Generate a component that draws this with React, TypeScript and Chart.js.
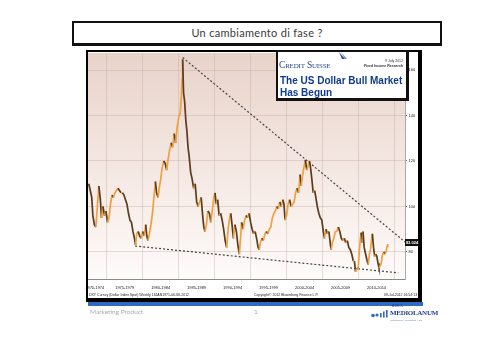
import React, { useEffect, useRef } from "react";
import { Chart, registerables } from "chart.js";
Chart.register(...registerables);

// ---- data (US Dollar Index) ----
const years = [
  1972.6, 1972.8, 1973.0, 1973.15, 1973.35, 1973.55, 1973.75, 1973.95, 1974.15, 1974.3,
  1974.5, 1974.7, 1974.9, 1975.1, 1975.3, 1975.5, 1975.7, 1975.9, 1976.1, 1976.3,
  1976.5, 1976.7, 1976.9, 1977.1, 1977.3, 1977.5, 1977.7, 1977.9, 1978.1, 1978.3,
  1978.5, 1978.7, 1978.85, 1979.0, 1979.2, 1979.4, 1979.6, 1979.8, 1980.0, 1980.2,
  1980.35, 1980.5, 1980.7, 1980.9, 1981.1, 1981.3, 1981.5, 1981.65, 1981.85, 1982.0,
  1982.2, 1982.4, 1982.6, 1982.8, 1983.0, 1983.2, 1983.4, 1983.6, 1983.8, 1984.0,
  1984.2, 1984.4, 1984.6, 1984.8, 1984.95, 1985.05, 1985.13, 1985.25, 1985.4, 1985.55,
  1985.7, 1985.85, 1986.0, 1986.2, 1986.4, 1986.6, 1986.8, 1987.0, 1987.2, 1987.4,
  1987.6, 1987.8, 1987.95, 1988.1, 1988.3, 1988.5, 1988.7, 1988.9, 1989.1, 1989.3,
  1989.45, 1989.6, 1989.8, 1990.0, 1990.2, 1990.4, 1990.6, 1990.8, 1991.0, 1991.2,
  1991.4, 1991.55, 1991.75, 1991.9, 1992.1, 1992.3, 1992.5, 1992.7, 1992.85, 1993.0,
  1993.2, 1993.4, 1993.6, 1993.8, 1994.0, 1994.2, 1994.4, 1994.6, 1994.8, 1995.0,
  1995.2, 1995.35, 1995.5, 1995.7, 1995.9, 1996.1, 1996.3, 1996.5, 1996.7, 1996.9,
  1997.1, 1997.3, 1997.5, 1997.7, 1997.9, 1998.1, 1998.3, 1998.5, 1998.65, 1998.8,
  1999.0, 1999.2, 1999.4, 1999.6, 1999.8, 2000.0, 2000.2, 2000.4, 2000.6, 2000.8,
  2000.95, 2001.1, 2001.3, 2001.5, 2001.7, 2001.9, 2002.05, 2002.2, 2002.4, 2002.55,
  2002.75, 2002.95, 2003.1, 2003.3, 2003.5, 2003.7, 2003.9, 2004.05, 2004.25, 2004.45,
  2004.65, 2004.85, 2004.95, 2005.1, 2005.3, 2005.5, 2005.7, 2005.9, 2006.1, 2006.3,
  2006.5, 2006.7, 2006.9, 2007.1, 2007.3, 2007.5, 2007.7, 2007.9, 2008.05, 2008.2,
  2008.4, 2008.55, 2008.7, 2008.85, 2008.95, 2009.1, 2009.2, 2009.35, 2009.55, 2009.75,
  2009.9, 2010.05, 2010.2, 2010.35, 2010.45, 2010.6, 2010.75, 2010.9, 2011.05, 2011.2,
  2011.33, 2011.5, 2011.6, 2011.75, 2011.9, 2012.0, 2012.15, 2012.3, 2012.4, 2012.5,
];
const dxy = [
  110, 107, 104, 96, 92, 91, 100, 109, 103, 95,
  100, 96, 98, 93, 95, 101, 105, 104, 106, 107,
  108, 107, 106, 106, 105, 103, 101, 97, 94, 93,
  89, 86, 83, 88, 89, 87, 86, 89, 87, 92,
  87, 85, 88, 92, 97, 104, 111, 106, 104, 108,
  112, 117, 120, 119, 116, 121, 125, 128, 126, 132,
  128, 135, 139, 141, 148, 156, 164.7, 150, 146, 138,
  133, 126, 122, 115, 112, 108, 110, 102, 100, 102,
  104, 96, 91, 89, 92, 98, 97, 93, 99, 104,
  106, 101, 103, 96, 97, 94, 90, 85, 82, 90,
  95, 97, 91, 86, 92, 89, 83, 79, 86, 93,
  90, 94, 96, 95, 97, 93, 90, 88, 89, 86,
  82, 81, 84, 86, 85, 88, 89, 88, 90, 91,
  95, 97, 98, 100, 99, 102, 100, 103, 101, 94,
  96, 101, 103, 100, 101, 102, 106, 108, 106, 114,
  109, 113, 117, 120.5, 116, 118, 120, 117, 111, 106,
  107, 103, 100, 97, 95, 94, 89, 86, 90, 88,
  89, 83, 81, 84, 86, 89, 89, 91, 89, 86,
  85, 86, 84, 85, 82, 81, 79, 76, 76, 71.3,
  73, 72.5, 80, 86, 88.5, 84, 89, 82, 79, 76,
  74.5, 79, 81, 86, 88, 82, 78, 79, 78, 75,
  73, 74, 74.5, 78, 79.5, 80, 79, 80.5, 82.5, 83.5,
];
const yTicks = [80, 100, 120, 140, 160];
const xGridYears = [1975, 1979.8, 1984.6, 1989.4, 1994.2, 1999, 2003.8, 2008.6, 2013.4];
const xLabelYears = [1973.4, 1977.4, 1982.2, 1987, 1991.8, 1996.6, 2001.4, 2006.2, 2011];
const xLabels = [
  "1970-1974", "1975-1979", "1980-1984", "1985-1989", "1990-1994",
  "1995-1999", "2000-2004", "2005-2009", "2010-2014",
];
const upperTrendYears = [1985.13, 2014.87];
const upperTrendValues = [165.5, 84.2];
const lowerTrendYears = [1978.8, 2013.9];
const lowerTrendValues = [82.6, 70.8];
const lastValueLabel = "83.024";

export default function App() {
  const ref = useRef<HTMLCanvasElement>(null);

  useEffect(() => {
    const plotBg = {
      id: "plotBg",
      beforeDraw(chart: any) {
        const { ctx, chartArea: a } = chart;
        const g = ctx.createLinearGradient(0, a.top, 0, a.bottom);
        g.addColorStop(0, "#e8d3ca");
        g.addColorStop(0.55, "#f5e9e4");
        g.addColorStop(1, "#fefbfa");
        ctx.save();
        ctx.fillStyle = g;
        ctx.fillRect(a.left, a.top, a.right - a.left, a.bottom - a.top);
        ctx.restore();
      },
    };
    const gridColor = "rgba(190,160,150,0.35)";
    const chart = new Chart(ref.current as HTMLCanvasElement, {
      type: "line",
      data: {
        datasets: [
          {
            data: years.map((x, i) => ({ x, y: dxy[i] })),
            borderColor: "#f0a040",
            borderWidth: 1.7,
            pointRadius: 0,
            tension: 0,
            segment: {
              borderColor: (c: any) => (c.p1.parsed.y >= c.p0.parsed.y ? "#f0a040" : "#5a3c1e"),
            },
          },
          {
            data: upperTrendYears.map((x, i) => ({ x, y: upperTrendValues[i] })),
            borderColor: "#444",
            borderWidth: 1.2,
            borderDash: [2, 2],
            pointRadius: 0,
          },
          {
            data: lowerTrendYears.map((x, i) => ({ x, y: lowerTrendValues[i] })),
            borderColor: "#444",
            borderWidth: 1.2,
            borderDash: [2, 2],
            pointRadius: 0,
          },
        ],
      },
      options: {
        animation: false,
        responsive: false,
        devicePixelRatio: 1,
        layout: { padding: { left: 88, top: 53, right: 82, bottom: 62 } },
        plugins: { legend: { display: false }, tooltip: { enabled: false } },
        scales: {
          x: {
            type: "linear",
            min: 1972.5,
            max: 2014.8,
            position: "bottom",
            afterBuildTicks: (s: any) => {
              s.ticks = xGridYears.map((v) => ({ value: v }));
            },
            afterFit: (s: any) => {
              s.height = 0;
            },
            ticks: { display: false },
            grid: { color: gridColor, drawTicks: false },
            border: { display: false },
          },
          x2: {
            type: "linear",
            min: 1972.5,
            max: 2014.8,
            position: "bottom",
            afterBuildTicks: (s: any) => {
              s.ticks = xLabelYears.map((v) => ({ value: v }));
            },
            afterFit: (s: any) => {
              s.height = 19;
            },
            grid: { display: false, drawTicks: false, tickLength: 0 },
            border: { display: true, color: "#888", dash: [2, 2] },
            ticks: {
              font: { size: 4, family: "Liberation Sans" },
              color: "#222",
              padding: 6,
              maxRotation: 0,
              autoSkip: false,
              callback: (_v: any, i: number) => xLabels[i],
            },
          },
          y: {
            position: "right",
            min: 68.1,
            max: 167.5,
            afterBuildTicks: (s: any) => {
              s.ticks = yTicks.map((v) => ({ value: v }));
            },
            afterFit: (s: any) => {
              s.width = 13;
            },
            grid: { color: gridColor, tickColor: "#777", tickLength: 2 },
            border: { display: true, color: "#aaa" },
            ticks: {
              font: { size: 4, family: "Liberation Sans" },
              color: "#222",
              padding: 1.5,
              callback: (v: any) => String(v),
            },
          },
        },
      } as any,
      plugins: [plotBg],
    });
    return () => chart.destroy();
  }, []);

  const abs = (o: any) => ({ position: "absolute", ...o } as React.CSSProperties);

  return (
    <div style={{ position: "fixed", left: 0, top: 0, width: 500, height: 360, background: "#fff", overflow: "hidden" }}>
      <canvas ref={ref} width={500} height={360} style={abs({ left: 0, top: 0, width: 500, height: 360 })} />

      {/* slide title */}
      <div
        style={abs({
          left: 72, top: 21, width: 370, height: 25, boxSizing: "border-box",
          border: "2px solid #111", borderBottom: "3px solid #111", background: "#fff",
          textAlign: "center", font: "11px Lato, 'Open Sans', sans-serif", lineHeight: "20px",
          color: "#3a3a3a", letterSpacing: 0.3,
        })}
      >
        Un cambiamento di fase ?
      </div>

      {/* chart frame */}
      <div
        style={abs({
          left: 86, top: 50, width: 336, height: 252, boxSizing: "border-box",
          borderLeft: "2px solid #000", borderTop: "2px solid #000",
          borderRight: "4px solid #000", borderBottom: "4px solid #000",
        })}
      />

      {/* source row */}
      <div style={abs({ left: 89, top: 293, font: "3.5px 'Liberation Sans'", color: "#222", whiteSpace: "nowrap" })}>
        DXY Curncy (Dollar Index Spot) Weekly 16JAN1971-06JUL2012
      </div>
      <div style={abs({ left: 254, top: 293, font: "3.5px 'Liberation Sans'", color: "#222", whiteSpace: "nowrap" })}>
        Copyright© 2012 Bloomberg Finance L.P.
      </div>
      <div style={abs({ left: 384, top: 293, font: "3.5px 'Liberation Sans'", color: "#222", whiteSpace: "nowrap" })}>
        09-Jul-2012 16:54:13
      </div>

      {/* last value marker */}
      <div
        style={abs({
          left: 405, top: 239, width: 14, height: 7, background: "#111", color: "#fff",
          font: "bold 4px 'Liberation Sans'", lineHeight: "7px", textAlign: "center",
        })}
      >
        {lastValueLabel}
      </div>

      {/* Credit Suisse box */}
      <div
        style={abs({
          left: 276, top: 50, width: 133, height: 51, boxSizing: "border-box",
          border: "2px solid #111", borderRight: "3px solid #111", borderBottom: "3px solid #111",
          background: "#fff",
        })}
      >
        <div style={abs({ left: 1, top: 8, font: "9.5px 'Liberation Serif', serif", fontVariant: "small-caps", color: "#2a4a8c", letterSpacing: -0.2, whiteSpace: "nowrap" })}>
          Credit Suisse
        </div>
        <svg style={abs({ left: 60, top: 0 })} width="10" height="10" viewBox="0 0 10 10">
          <polygon points="1,0 7,7 4,7" fill="#2a4a8c" />
          <polygon points="3,0 9,7 7,7" fill="#6c86b8" />
        </svg>
        <div style={abs({ right: 3, top: 7, font: "3.5px 'Liberation Sans'", color: "#333", textAlign: "right", lineHeight: "5px", whiteSpace: "nowrap" })}>
          9 July 2012
          <br />
          <b>Fixed Income Research</b>
        </div>
        <div style={abs({ left: 2, top: 23, font: "bold 10px 'Liberation Sans', Arial, sans-serif", color: "#0e3b8e", lineHeight: "11.5px", whiteSpace: "nowrap" })}>
          The US Dollar Bull Market
          <br />
          Has Begun
        </div>
      </div>

      {/* blue rule */}
      <div style={abs({ left: 88, top: 302, width: 335, height: 4, background: "#2d6cc0" })} />

      {/* footer */}
      <div style={abs({ left: 90, top: 308, font: "6.5px Lato, sans-serif", color: "#aaa", whiteSpace: "nowrap" })}>
        Marketing Product
      </div>
      <div style={abs({ left: 254, top: 308, font: "6.5px Lato, sans-serif", color: "#aaa" })}>1</div>

      {/* Banca Mediolanum logo */}
      <svg style={abs({ left: 371, top: 309 })} width="18" height="9" viewBox="0 0 18 9">
        <circle cx="2" cy="6.5" r="1.8" fill="#2d6cc0" />
        <circle cx="6" cy="6" r="1.6" fill="#2d6cc0" />
        <rect x="9" y="4" width="1.6" height="4.5" fill="#2d6cc0" />
        <rect x="12" y="2.5" width="1.6" height="6" fill="#2d6cc0" />
        <rect x="15" y="1" width="1.6" height="7.5" fill="#2d6cc0" />
      </svg>
      <div style={abs({ left: 392, top: 304, font: "bold 3px 'Liberation Serif'", color: "#23408e" })}>BANCA</div>
      <div style={abs({ left: 390, top: 309, font: "bold 7px 'Liberation Serif', serif", color: "#23408e", letterSpacing: -0.3, whiteSpace: "nowrap" })}>
        MEDIOLANUM
      </div>
      <div style={abs({ left: 390, top: 318.5, font: "2.5px 'Liberation Sans'", color: "#6a7fb0", whiteSpace: "nowrap" })}>
        COSTRUITA INTORNO A TE
      </div>
    </div>
  );
}
